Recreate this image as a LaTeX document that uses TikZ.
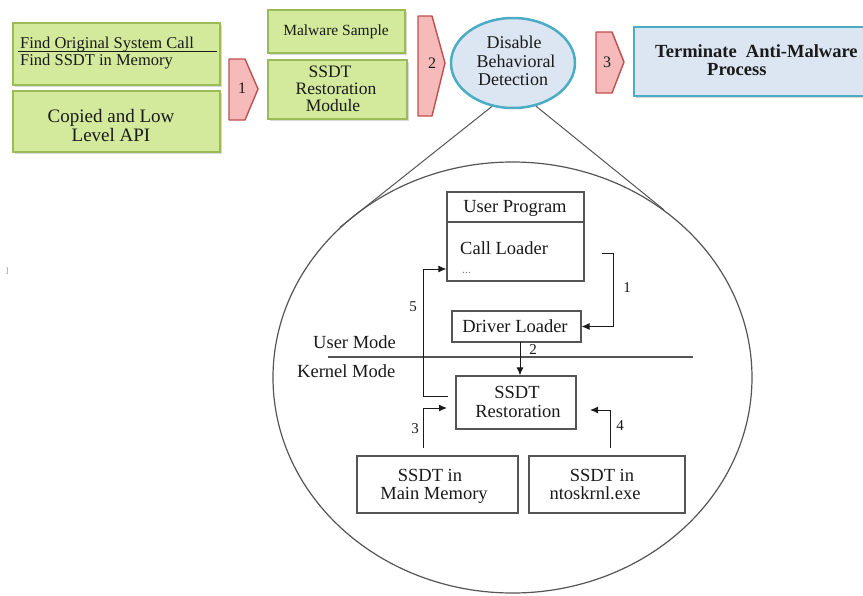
\documentclass[tikz,border=0pt]{standalone}
\usepackage{fontspec}
\setmainfont{Liberation Serif}
\usetikzlibrary{arrows.meta,shapes.geometric,shadows}
\definecolor{gfill}{HTML}{D3E99C}
\definecolor{gline}{HTML}{9BBB59}
\definecolor{bfill}{HTML}{DCE6F2}
\definecolor{bline}{HTML}{4BACC6}
\definecolor{pfill}{HTML}{F6BABA}
\definecolor{pline}{HTML}{C0504D}
\definecolor{ink}{HTML}{1A1A1A}
\definecolor{lgray}{HTML}{555555}
\newcommand{\myfs}[1]{\fontsize{#1}{#1}\selectfont}
\begin{document}
\begin{tikzpicture}[x=1pt,y=-1pt,
  gbox/.style={draw=gline,line width=1.8pt,fill=gfill,inner sep=0pt,
    drop shadow={shadow xshift=1.5pt,shadow yshift=-2pt,opacity=0.3}},
  tbox/.style={draw=bline,line width=1.8pt,fill=bfill,inner sep=0pt,
    drop shadow={shadow xshift=1.5pt,shadow yshift=-2pt,opacity=0.3}},
  chev/.style={draw=pline,line width=1.4pt,fill=pfill,line join=round},
  ibox/.style={draw=lgray,line width=1.2pt,inner sep=0pt},
  arr/.style={draw=ink,line width=1pt,-{Latex[length=8pt,width=7pt]}},
  txt/.style={inner sep=0pt,text=ink,font=\myfs{18.5}},
  lab/.style={inner sep=0pt,text=ink,font=\myfs{15}},
]
\useasboundingbox (0,0) rectangle (863,595);
\clip (0,0) rectangle (863,595);
\fill[white] (0,0) rectangle (863,595);

% ---- top row ----
\node[gbox,minimum width=207pt,minimum height=62pt] (fa) at (116.5,54) {};
\node[txt,font=\myfs{16.5},anchor=base west] (fa1) at (20,48) {Find Original System Call};
\node[txt,font=\myfs{16.5},anchor=base west] (fa2) at (20,65) {Find SSDT in Memory};
\draw[ink,line width=0.9pt] (18,51) -- (217,51);

\node[gbox,minimum width=207pt,minimum height=61pt] (cl) at (116.5,121.5) {};
\node[txt,font=\myfs{19},anchor=base] (cl1) at (111,122) {Copied and Low};
\node[txt,font=\myfs{19},anchor=base] (cl2) at (111,141) {Level API};

\draw[chev] (229,59) -- (245,59) -- (258,89) -- (245,120) -- (229,120) -- cycle;
\node[lab,font=\myfs{16}] (c1) at (242,88) {1};

\node[gbox,minimum width=137pt,minimum height=43pt] (ms) at (336.5,31.5) {};
\node[txt,font=\myfs{15.5},anchor=base] (ms1) at (336,35) {Malware Sample};

\node[gbox,minimum width=139pt,minimum height=59pt] (srm) at (337.5,89.5) {};
\node[txt,font=\myfs{17.5},anchor=base] (srm1) at (330,77) {SSDT};
\node[txt,font=\myfs{17.5},anchor=base] (srm2) at (336,94) {Restoration};
\node[txt,font=\myfs{17.5},anchor=base] (srm3) at (333,111) {Module};

\draw[chev] (418,16) -- (432,16) -- (445,63) -- (432,116) -- (418,116) -- cycle;
\node[lab,font=\myfs{16}] (c2) at (432,63) {2};

\node[draw=bline,line width=2.5pt,fill=bfill,ellipse,minimum width=124pt,minimum height=90pt,inner sep=0pt] (dis) at (513,63) {};
\node[txt,font=\myfs{18},anchor=base] (dis1) at (514,48) {Disable};
\node[txt,font=\myfs{18},anchor=base] (dis2) at (516,67) {Behavioral};
\node[txt,font=\myfs{18},anchor=base] (dis3) at (513,85) {Detection};

\draw[chev] (596,32) -- (612,32) -- (624,62) -- (612,93) -- (596,93) -- cycle;
\node[lab,font=\myfs{16}] (c3) at (607,62) {3};

\node[tbox,minimum width=280pt,minimum height=69pt] (term) at (774,61.5) {};
\node[txt,font=\myfs{18.5}\bfseries,anchor=base west] (term1) at (655,57) {Terminate\ \ Anti-Malware};
\node[txt,font=\myfs{18.5}\bfseries,anchor=base west] (term2) at (707,75) {Process};

\node[inner sep=0pt,text=gray,font=\myfs{8}] (stray) at (7,271) {]};

% ---- zoom circle ----
\node[draw=lgray,line width=1.2pt,ellipse,minimum width=479pt,minimum height=431pt,inner sep=0pt] (zoom) at (512.5,377.5) {};
\draw[lgray,line width=1pt] (dis.244) -- (zoom.139);
\draw[lgray,line width=1pt] (dis.298) -- (zoom.48);

% ---- inner diagram ----
\node[ibox,minimum width=137pt,minimum height=89pt] (up) at (515.5,236.5) {};
\draw[lgray,line width=1.2pt] (up.west |- 0,222) -- (up.east |- 0,222);
\node[txt,anchor=base] (up1) at (515,212) {User Program};
\node[txt,anchor=base west] (up2) at (460,254) {Call Loader};
\node[inner sep=0pt,text=gray,font=\myfs{12},anchor=base west] (up3) at (462,273) {...};

\node[ibox,minimum width=129pt,minimum height=31pt] (dl) at (516.5,326.5) {};
\node[txt,anchor=base] (dl1) at (515,332) {Driver Loader};

\draw[lgray,line width=1.2pt] (328,357) -- (693,357);
\node[txt,anchor=base west] (um) at (313,348) {User Mode};
\node[txt,anchor=base west] (km) at (297,377) {Kernel Mode};

\node[ibox,minimum width=120pt,minimum height=53pt] (sr) at (516,402.5) {};
\node[txt,anchor=base] (sr1) at (517,398) {SSDT};
\node[txt,anchor=base] (sr2) at (518,417) {Restoration};

\node[ibox,minimum width=161pt,minimum height=57pt] (mm) at (437.5,484.5) {};
\node[txt,anchor=base] (mm1) at (430,481) {SSDT in};
\node[txt,anchor=base] (mm2) at (434,499) {Main Memory};

\node[ibox,minimum width=156pt,minimum height=57pt] (nt) at (607,484.5) {};
\node[txt,anchor=base] (nt1) at (602,481) {SSDT in};
\node[txt,anchor=base] (nt2) at (595,499) {ntoskrnl.exe};

% connectors
\coordinate (a1) at (602,253);
\draw[arr] (a1) -- (613,253) |- (dl.east);
\node[lab] (l1) at (627,288) {1};

\coordinate (a2) at (520,342);
\draw[arr] (a2) -- (a2 |- sr.north);
\node[lab] (l2) at (533,350) {2};

\coordinate (a5) at (448,396);
\draw[arr] (a5) -- (423,396) |- (up.west |- 0,269);
\node[lab] (l5) at (413,307) {5};

\coordinate (a3) at (423,448);
\coordinate (t3) at (447,408);
\draw[arr] (a3) |- (t3);
\node[lab] (l3) at (415,429) {3};

\coordinate (a4) at (610,448);
\coordinate (t4) at (590,410);
\draw[arr] (a4) |- (t4);
\node[lab] (l4) at (620,426) {4};
\end{tikzpicture}
\end{document}
